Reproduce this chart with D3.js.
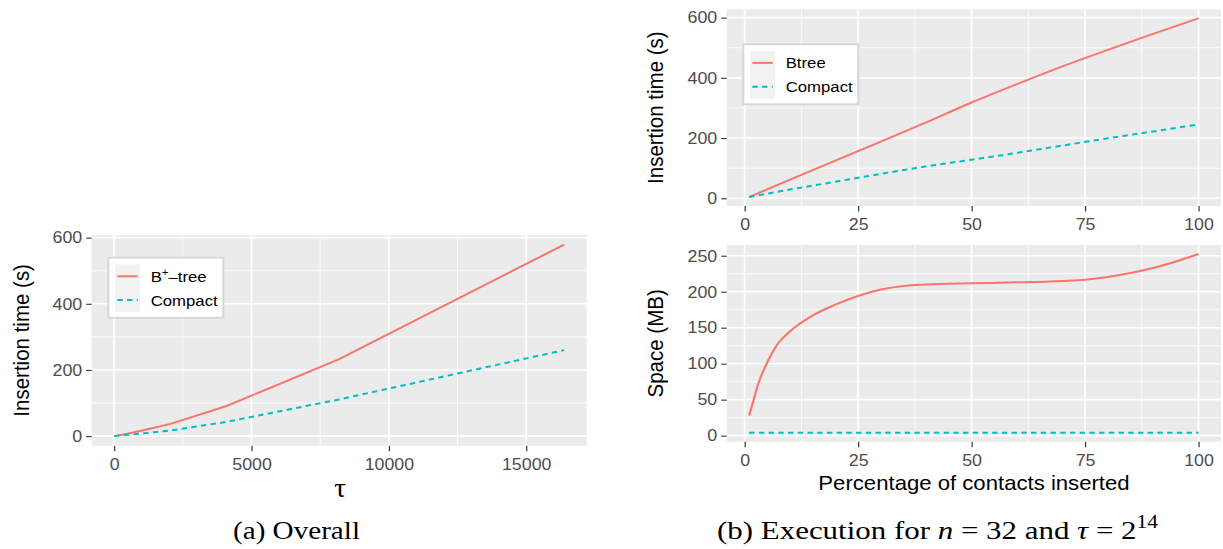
<!DOCTYPE html>
<html>
<head>
<meta charset="utf-8">
<script src="https://cdn.jsdelivr.net/npm/d3@7"></script>
<style>
  body { margin: 0; background: #fff; }
  svg text { font-family: "Liberation Sans", Arial, sans-serif; }
  .cap { font-family: "Liberation Serif", "DejaVu Serif", serif; }
</style>
</head>
<body>
<div id="chart"></div>
<script>
// (a) overall, insertion time vs tau
const tauValues = [1, 512, 1024, 2048, 4096, 8192, 16384];
const btreeOverall = [0, 8, 17, 37, 91, 233, 579];
const compactOverall = [0, 4, 8, 17, 43, 111, 260];
const tauTicks = [0, 5000, 10000, 15000];
const timeTicksA = [0, 200, 400, 600];

// (b) execution, insertion time vs percentage
const pctTime = [1, 10, 20, 30, 40, 50, 60, 70, 80, 90, 100];
const btreeTime = [4, 62, 125, 188, 252, 318, 379, 438, 493, 546, 598];
const compactTime = [4, 29, 55, 81, 106, 128, 151, 175, 199, 222, 245];

// (b) execution, space vs percentage
const pctSpace = [1, 2, 3, 5, 7, 10, 15, 20, 25, 30, 35, 40, 50, 60, 70, 75, 80, 85, 90, 95, 100];
const btreeSpace = [28, 50, 72, 102, 125, 145, 167, 182, 194, 203, 208, 210, 211.7, 213, 215, 216.7, 220.5, 226, 233, 242, 252.5];
const compactSpace = [4, 4, 4, 4, 4, 4, 4, 4, 4, 4, 4, 4, 4, 4, 4, 4, 4, 4, 4, 4, 4];

const pctTicks = [0, 25, 50, 75, 100];
const timeTicksB = [0, 200, 400, 600];
const spaceTicks = [0, 50, 100, 150, 200, 250];

const W = 1223, H = 549;
const SX = 1.08;               // plots were stretched a bit horizontally
const sx = v => v / SX;
const RED = '#F8766D', CYAN = '#00BFC4';
const LW = 2, DASH = '5,4';

const svg = d3.select('#chart').append('svg')
  .attr('width', W).attr('height', H);

const plots = svg.append('g').attr('transform', `scale(${SX},1)`);

const expand = e => { const d = (e[1] - e[0]) * 0.05; return [e[0] - d, e[1] + d]; };

function drawPanel(o) {
  const g = plots.append('g');
  const b = o.box;
  const yAll = d3.merge(o.series.map(s => s.y));
  const x = d3.scaleLinear().domain(expand(d3.extent(o.x))).range([sx(b.l), sx(b.r)]);
  const y = d3.scaleLinear().domain(expand(d3.extent(yAll))).range([b.b, b.t]);

  g.append('rect')
    .attr('x', sx(b.l)).attr('y', b.t)
    .attr('width', sx(b.r - b.l)).attr('height', b.b - b.t)
    .attr('fill', '#EBEBEB');

  const mid = t => d3.pairs(t).map(([a, c]) => (a + c) / 2);

  // minor grid
  g.selectAll('.mx').data(mid(o.xTicks)).enter().append('line')
    .attr('x1', d => x(d)).attr('x2', d => x(d)).attr('y1', b.t).attr('y2', b.b)
    .attr('stroke', '#fff').attr('stroke-width', 0.8);
  g.selectAll('.my').data(mid(o.yTicks)).enter().append('line')
    .attr('y1', d => y(d)).attr('y2', d => y(d)).attr('x1', sx(b.l)).attr('x2', sx(b.r))
    .attr('stroke', '#fff').attr('stroke-width', 0.8);
  // major grid
  g.selectAll('.gx').data(o.xTicks).enter().append('line')
    .attr('x1', d => x(d)).attr('x2', d => x(d)).attr('y1', b.t).attr('y2', b.b)
    .attr('stroke', '#fff').attr('stroke-width', 1.6);
  g.selectAll('.gy').data(o.yTicks).enter().append('line')
    .attr('y1', d => y(d)).attr('y2', d => y(d)).attr('x1', sx(b.l)).attr('x2', sx(b.r))
    .attr('stroke', '#fff').attr('stroke-width', 1.6);

  const xAxis = g.append('g')
    .attr('transform', `translate(0,${b.b})`)
    .call(d3.axisBottom(x).tickValues(o.xTicks).tickSize(5.5).tickPadding(7).tickFormat(d3.format('d')));
  const yAxis = g.append('g')
    .attr('transform', `translate(${sx(b.l)},0)`)
    .call(d3.axisLeft(y).tickValues(o.yTicks).tickSize(sx(5.5)).tickPadding(sx(4)).tickFormat(d3.format('d')));
  [xAxis, yAxis].forEach(a => {
    a.select('.domain').remove();
    a.selectAll('.tick line').attr('stroke', '#333').attr('stroke-width', 1.1);
    a.selectAll('.tick text').attr('fill', '#4D4D4D')
      .style('font-size', '16.5px').style('font-family', '"Liberation Sans", Arial, sans-serif');
  });

  const line = d3.line().x(d => x(d[0])).y(d => y(d[1])).curve(o.curve || d3.curveLinear);
  o.series.forEach(s => {
    g.append('path')
      .datum(o.x.map((v, i) => [v, s.y[i]]))
      .attr('d', line)
      .attr('fill', 'none')
      .attr('stroke', s.color)
      .attr('stroke-width', LW)
      .attr('stroke-dasharray', s.dash || null);
  });

  // y title
  const cy = (b.t + b.b) / 2;
  g.append('text')
    .attr('transform', `translate(${sx(o.yTitleX)},${cy}) rotate(-90)`)
    .attr('text-anchor', 'middle').attr('dy', '0.35em')
    .style('font-size', '20.5px').attr('fill', '#000')
    .text(o.yTitle);
  return { g, x, y };
}

function legend(g, x0, y0, labels) {
  const lg = g.append('g');
  lg.append('rect').attr('x', sx(x0)).attr('y', y0)
    .attr('width', sx(115)).attr('height', 60)
    .attr('fill', '#fff').attr('stroke', '#D6D6D6').attr('stroke-width', 1.8);
  labels.forEach((l, i) => {
    const ky = y0 + 6.7 + i * 23.8;
    lg.append('rect').attr('x', sx(x0 + 6.7)).attr('y', ky)
      .attr('width', sx(25)).attr('height', 23.8).attr('fill', '#F2F2F2');
    lg.append('line')
      .attr('x1', sx(x0 + 9)).attr('x2', sx(x0 + 29.5))
      .attr('y1', ky + 11.9).attr('y2', ky + 11.9)
      .attr('stroke', l.color).attr('stroke-width', LW)
      .attr('stroke-dasharray', l.dash || null);
    const t = lg.append('text').attr('x', sx(x0 + 42.4)).attr('y', ky + 11.9)
      .attr('dy', '0.35em').style('font-size', '15.5px').attr('fill', '#000');
    l.parts.forEach(p => {
      const ts = t.append('tspan').text(p.t);
      if (p.sup) ts.attr('dy', -6).style('font-size', '10.5px');
      if (p.after) ts.attr('dy', 6);
    });
  });
}

// (a)
const pa = drawPanel({
  box: { l: 91.7, r: 586.7, t: 235, b: 445.7 },
  x: tauValues, xTicks: tauTicks, yTicks: timeTicksA,
  series: [{ y: btreeOverall, color: RED }, { y: compactOverall, color: CYAN, dash: DASH }],
  yTitle: 'Insertion time (s)', yTitleX: 21.7
});
pa.g.append('text')
  .attr('x', sx(340)).attr('y', 497)
  .attr('text-anchor', 'middle')
  .style('font-family', '"Liberation Serif", serif').style('font-size', '27px')
  .text('τ');
legend(pa.g, 108.3, 257.7, [
  { color: RED, parts: [{ t: 'B' }, { t: '+', sup: true }, { t: '–tree', after: true }] },
  { color: CYAN, dash: DASH, parts: [{ t: 'Compact' }] }
]);

// (b) top
const pt = drawPanel({
  box: { l: 726.7, r: 1221, t: 9.3, b: 206 },
  x: pctTime, xTicks: pctTicks, yTicks: timeTicksB,
  series: [{ y: btreeTime, color: RED }, { y: compactTime, color: CYAN, dash: DASH }],
  yTitle: 'Insertion time (s)', yTitleX: 655, curve: d3.curveMonotoneX
});
legend(pt.g, 743.3, 44.3, [
  { color: RED, parts: [{ t: 'Btree' }] },
  { color: CYAN, dash: DASH, parts: [{ t: 'Compact' }] }
]);

// (b) bottom
const pb = drawPanel({
  box: { l: 726.7, r: 1221, t: 245, b: 441.7 },
  x: pctSpace, xTicks: pctTicks, yTicks: spaceTicks,
  series: [{ y: btreeSpace, color: RED }, { y: compactSpace, color: CYAN, dash: DASH }],
  yTitle: 'Space (MB)', yTitleX: 655, curve: d3.curveMonotoneX
});
pb.g.append('text')
  .attr('x', sx(974)).attr('y', 490)
  .attr('text-anchor', 'middle')
  .style('font-size', '20.5px').attr('fill', '#000')
  .text('Percentage of contacts inserted');

// captions
svg.append('text').attr('class', 'cap')
  .attr('x', 233).attr('y', 539)
  .attr('textLength', 127).attr('lengthAdjust', 'spacingAndGlyphs')
  .style('font-size', '26px').text('(a) Overall');

const cb = svg.append('text').attr('class', 'cap')
  .attr('x', 717).attr('y', 539)
  .attr('textLength', 441).attr('lengthAdjust', 'spacingAndGlyphs')
  .style('font-size', '26px');
cb.append('tspan').text('(b) Execution for ');
cb.append('tspan').style('font-style', 'italic').text('n');
cb.append('tspan').text(' = 32 and ');
cb.append('tspan').style('font-style', 'italic').text('τ');
cb.append('tspan').text(' = 2');
cb.append('tspan').attr('dy', -11).style('font-size', '18px').text('14');
</script>
</body>
</html>
